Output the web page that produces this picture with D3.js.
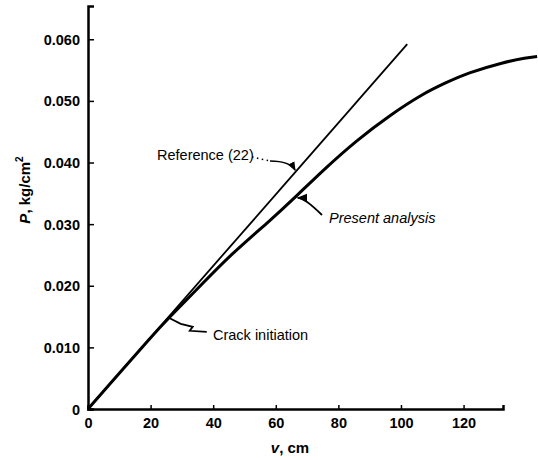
<!DOCTYPE html>
<html>
<head>
<meta charset="utf-8">
<script src="https://cdn.jsdelivr.net/npm/d3@7"></script>
<style>
  body { margin: 0; background: #fff; }
  svg { display: block; font-family: "Liberation Sans", Arial, sans-serif; }
</style>
</head>
<body>
<svg id="chart" width="538" height="460"></svg>
<script>
// deflection v (cm) vs pressure P (kg/cm^2)
const presentV = [0, 10, 20, 25.8, 35, 45.4, 58.7, 66.7, 75.2, 85.8, 96.5, 107.1, 114.6, 121, 133, 140, 143.5];
const presentP = [0, 0.0058, 0.0116, 0.0148, 0.0195, 0.0250, 0.0308, 0.0346, 0.0388, 0.0436, 0.0477, 0.0512, 0.0530, 0.0545, 0.0563, 0.0570, 0.0572];
const referenceV = [0, 102];
const referenceP = [0, 0.0592];

const xTicks = [0, 20, 40, 60, 80, 100, 120];
const yTicks = [0, 0.01, 0.02, 0.03, 0.04, 0.05, 0.06];
const yTickLabels = ["0", "0.010", "0.020", "0.030", "0.040", "0.050", "0.060"];

const crackV = 25.8, crackP = 0.0148;      // crack initiation point
const refNoteV = 66.5;                      // where "Reference (22)" points
const presentNoteV = 66.7, presentNoteP = 0.0346;

const svg = d3.select("#chart");
const x = d3.scaleLinear().domain([0, 132.6]).range([88, 503]);
const y = d3.scaleLinear().domain([0, 0.0654]).range([409, 6]);

svg.append("defs").append("marker")
    .attr("id", "arrow")
    .attr("viewBox", "0 0 10 10")
    .attr("refX", 9).attr("refY", 5)
    .attr("markerWidth", 6).attr("markerHeight", 6)
    .attr("orient", "auto")
  .append("path")
    .attr("d", "M0,1 L10,5 L0,9 Z")
    .attr("fill", "#000");

// axes
const xAxis = svg.append("g")
    .attr("transform", `translate(0,${y(0)})`)
    .call(d3.axisBottom(x).tickValues(xTicks).tickSize(-4).tickPadding(9)
      .tickFormat(d => d === 0 ? "0" : d));
const yAxis = svg.append("g")
    .attr("transform", `translate(${x(0)},0)`)
    .call(d3.axisLeft(y).tickValues(yTicks).tickSize(-6).tickPadding(8)
      .tickFormat((d, i) => yTickLabels[i]));

[xAxis, yAxis].forEach(g => {
  g.select(".domain").attr("stroke-width", 2.5).attr("stroke", "#000");
  g.selectAll(".tick line").attr("stroke-width", 1.5).attr("stroke", "#000");
  g.selectAll("text").attr("font-size", 14.5).attr("font-weight", 600)
    .attr("fill", "#000").attr("font-family", "\"Liberation Sans\", Arial, sans-serif");
});
yAxis.selectAll(".tick text").attr("dy", "0.35em");

// axis titles
const yTitle = svg.append("text")
    .attr("transform", "translate(30,190) rotate(-90)")
    .attr("text-anchor", "middle")
    .attr("font-size", 15).attr("font-weight", 600);
yTitle.append("tspan").attr("font-style", "italic").text("P");
yTitle.append("tspan").text(",  kg/cm");
yTitle.append("tspan").attr("font-size", 10).attr("dy", -7).text("2");

const xTitle = svg.append("text")
    .attr("x", 290).attr("y", 453)
    .attr("text-anchor", "middle")
    .attr("font-size", 15).attr("font-weight", 600);
xTitle.append("tspan").attr("font-style", "italic").text("v");
xTitle.append("tspan").text(",  cm");

// curves
const line = d3.line().x(d => x(d[0])).y(d => y(d[1]));
svg.append("path")
    .datum(d3.zip(referenceV, referenceP))
    .attr("d", line)
    .attr("fill", "none").attr("stroke", "#000").attr("stroke-width", 1.8);
svg.append("path")
    .datum(d3.zip(presentV, presentP))
    .attr("d", line.curve(d3.curveBasis))
    .attr("fill", "none").attr("stroke", "#000").attr("stroke-width", 3);

// annotations
const refPx = x(refNoteV), refPy = y(referenceP[1] / referenceV[1] * refNoteV);
svg.append("text").attr("x", 157).attr("y", 160).attr("font-size", 14.5).text("Reference (22)");
svg.append("path")
    .attr("d", `M252,157 L270,161`)
    .attr("fill", "none").attr("stroke", "#000").attr("stroke-width", 1.5)
    .attr("stroke-dasharray", "1.5,3.5");
svg.append("path")
    .attr("d", `M270,161 Q${refPx - 6},${refPy - 10} ${refPx - 1},${refPy - 1}`)
    .attr("fill", "none").attr("stroke", "#000").attr("stroke-width", 1.5)
    .attr("marker-end", "url(#arrow)");

const pPx = x(presentNoteV), pPy = y(presentNoteP);
svg.append("text").attr("x", 329).attr("y", 223).attr("font-size", 14.5)
    .attr("font-style", "italic").text("Present analysis");
svg.append("path")
    .attr("d", `M322,215 Q${pPx + 8},${pPy + 2} ${pPx + 1},${pPy + 2}`)
    .attr("fill", "none").attr("stroke", "#000").attr("stroke-width", 1.8)
    .attr("marker-end", "url(#arrow)");

const cPx = x(crackV), cPy = y(crackP);
svg.append("text").attr("x", 213).attr("y", 340).attr("font-size", 14.5).text("Crack initiation");
svg.append("path")
    .attr("d", `M${cPx},${cPy} L${cPx + 12},${cPy + 6} L${cPx + 24},${cPy + 9} L${cPx + 21},${cPy + 13} L${cPx + 38},${cPy + 14}`)
    .attr("fill", "none").attr("stroke", "#000").attr("stroke-width", 1.8);
</script>
</body>
</html>
